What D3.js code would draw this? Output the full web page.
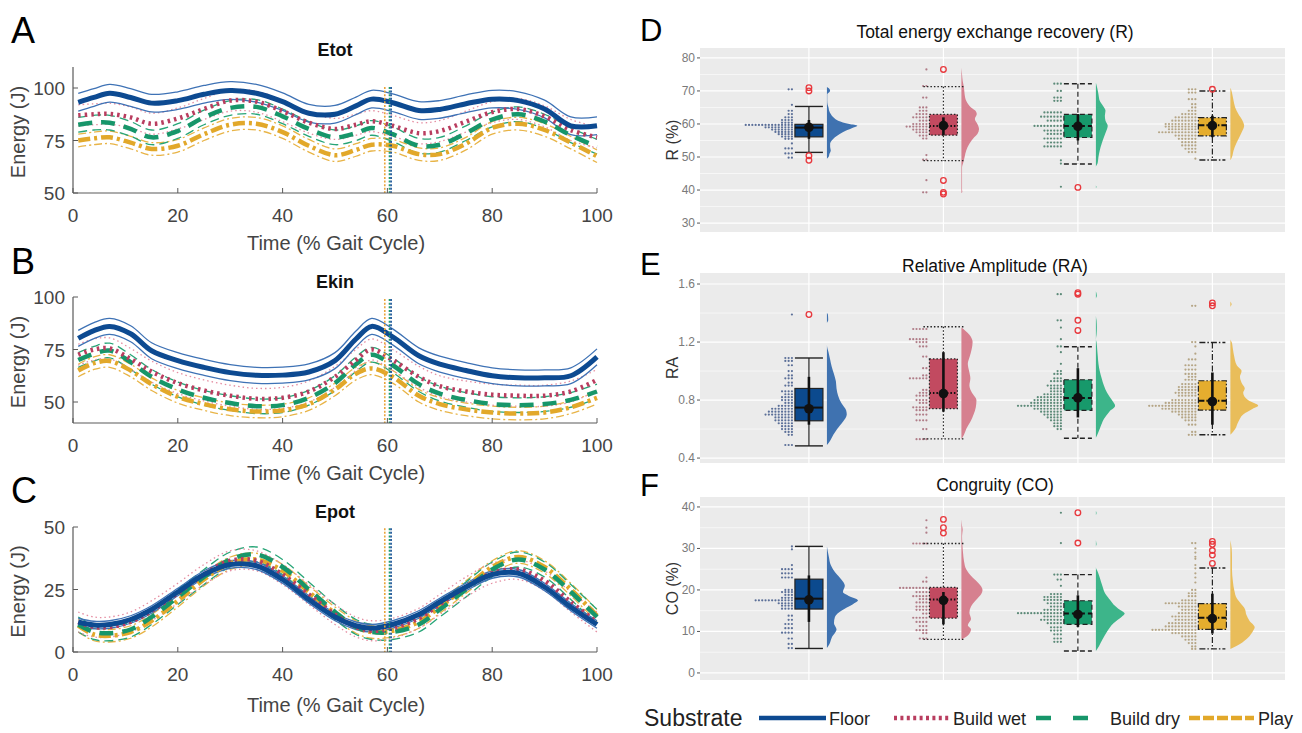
<!DOCTYPE html>
<html>
<head>
<meta charset="utf-8">
<script src="https://cdn.jsdelivr.net/npm/d3@7"></script>
<style>
  body { margin: 0; background: #fff; }
  svg { display: block; }
  text { font-family: "Liberation Sans", Arial, sans-serif; }
</style>
</head>
<body>
<svg id="fig" width="1302" height="733"></svg>
<script>
// ---------------- data ----------------
const substrates = ["Floor", "Build wet", "Build dry", "Play"];

// sample points along the gait cycle (%)
const gait = [1, 4, 7, 11, 15, 20, 25, 30, 35, 40, 45, 50, 54, 57, 61, 66, 70, 75, 80, 85, 90, 95, 100];

// total mechanical energy (J), group means
const etotFloor = [93.2, 95.5, 97.5, 95.5, 92.8, 94.0, 97.0, 98.8, 97.5, 93.5, 88.0, 87.5, 91.5, 94.7, 93.0, 89.3, 89.8, 92.5, 94.7, 94.0, 90.0, 82.0, 82.0];
const etotWet   = [87.0, 87.5, 87.7, 86.0, 83.0, 85.5, 90.0, 94.0, 93.5, 89.0, 83.5, 80.5, 82.5, 84.2, 82.0, 78.5, 79.5, 84.0, 88.5, 90.0, 86.5, 80.0, 76.5];
const etotDry   = [82.5, 83.5, 83.5, 80.5, 76.5, 79.5, 86.0, 90.5, 91.0, 86.5, 80.5, 76.5, 78.5, 81.0, 78.0, 72.5, 73.0, 78.5, 85.0, 87.5, 84.0, 77.5, 72.0];
const etotPlay  = [75.0, 76.0, 76.5, 74.0, 71.0, 72.5, 78.0, 82.5, 83.0, 79.0, 72.5, 68.0, 70.5, 73.0, 72.5, 68.5, 68.5, 73.5, 81.0, 83.0, 80.0, 74.0, 67.5];
const etotSd    = [4.2, 5.0, 3.5, 3.0];

// kinetic energy (J)
const ekinFloor = [80.3, 84.0, 86.0, 82.5, 74.4, 69.7, 66.5, 64.0, 62.7, 62.8, 64.3, 69.7, 80.0, 86.0, 81.0, 72.0, 68.0, 65.0, 62.5, 61.5, 61.5, 62.5, 71.5];
const ekinWet   = [72.5, 75.0, 75.5, 70.5, 64.5, 59.0, 55.5, 53.0, 51.5, 52.0, 55.0, 62.0, 70.0, 75.0, 70.0, 62.0, 57.5, 55.0, 53.5, 53.0, 53.0, 55.0, 60.5];
const ekinDry   = [70.0, 73.0, 74.5, 69.0, 62.0, 56.0, 52.0, 49.5, 48.0, 48.5, 52.0, 59.0, 68.0, 72.5, 67.5, 58.5, 54.0, 51.0, 49.0, 48.5, 49.0, 51.0, 55.0];
const ekinPlay  = [65.0, 68.5, 69.5, 65.0, 58.5, 52.5, 49.0, 46.5, 45.5, 46.0, 49.0, 56.0, 63.5, 66.0, 62.0, 53.0, 49.0, 46.5, 45.0, 44.5, 45.0, 47.5, 52.0];
const ekinSd    = [3.8, 5.0, 3.5, 3.0];

// potential energy (J)
const epotFloor = [12.0, 10.8, 11.0, 13.0, 17.0, 24.0, 31.0, 35.0, 34.5, 29.0, 21.0, 14.0, 10.5, 9.5, 11.0, 15.0, 20.0, 26.0, 31.0, 31.5, 26.0, 18.0, 11.0];
const epotWet   = [12.0, 10.0, 10.0, 12.0, 16.5, 23.5, 31.0, 36.5, 36.5, 31.0, 23.0, 15.0, 10.0, 8.5, 9.5, 13.5, 19.0, 26.0, 31.5, 33.0, 28.5, 20.0, 12.0];
const epotDry   = [11.0, 8.0, 7.5, 9.0, 14.0, 22.0, 30.0, 37.0, 39.0, 34.0, 25.0, 16.0, 10.0, 8.0, 8.0, 11.0, 17.0, 25.0, 33.0, 37.0, 33.0, 24.0, 14.0];
const epotPlay  = [10.5, 7.0, 6.5, 8.0, 12.5, 20.5, 29.0, 35.5, 37.0, 32.5, 24.0, 15.5, 10.0, 8.0, 8.5, 12.0, 18.0, 26.0, 34.0, 38.0, 34.0, 25.0, 14.5];
const epotSd    = [1.5, 4.0, 3.0, 2.5];

// toe-off events (% gait cycle): Play, Build dry, Floor
const toeOff = [59.5, 60.4, 60.7];

// ---- recovery (R, %) ----
// box statistics: [lower whisker, Q1, median, Q3, upper whisker]
const rBox = [[51.4, 56.1, 58.9, 59.9, 65.3], [48.9, 56.6, 59.4, 62.9, 71.3], [47.9, 55.9, 59.4, 62.9, 72.2], [49.1, 56.4, 59.6, 61.9, 70.0]];
const rMean = [59.0, 59.5, 59.3, 59.5];
const rMeanBar = [[55.5, 61.2], [56.5, 62.0], [55.0, 63.0], [56.0, 62.5]];
const rOutliers = [[71.0, 70.0, 50.4, 49.0], [76.5, 42.9, 39.3, 38.8], [40.8], [70.5]];
// binned observations: [value, count]
const rDots = [
  [[70.5,2],[65.8,1],[64,2],[63,2],[62,3],[61.2,4],[60.4,4],[59.7,15],[59,9],[58.3,7],[57.6,6],[56.9,5],[56.2,4],[55.5,3],[54.1,1],[52.6,3],[51.1,3],[49.8,2]],
  [[76.5,1],[71.5,2],[68,2],[65,3],[64,3],[63,4],[62,5],[61,3],[60,5],[59.2,7],[58.3,5],[57.5,4],[56.5,3],[55.6,2],[50.6,1],[49.2,2],[43,1],[39.3,2]],
  [[72.2,3],[70,2],[68,3],[67,3],[63.5,6],[62.2,7],[61,5],[59.4,9],[58,6],[57,5],[55.6,6],[54.4,5],[53.2,6],[49,1],[48,1],[41,1]],
  [[70.5,3],[69.5,3],[67.5,3],[66,2],[65,2],[64,3],[63,5],[62,7],[61,8],[60,10],[59.2,10],[58.4,9],[57.5,12],[56.5,7],[55.5,6],[54.5,5],[53.5,5],[52.5,4],[51.5,3],[49.5,1]]
];
// half-violin density profiles: [value, relative density]
const rDensity = [
  [[49.5,0],[50,0.05],[51,0.08],[52,0.12],[53,0.1],[54,0.1],[55,0.15],[56,0.25],[57,0.4],[58,0.6],[59,0.85],[59.5,0.95],[60,0.7],[61,0.35],[62,0.2],[63,0.12],[64,0.07],[65,0.05],[66,0.02],[67,0.01],[69,0.01],[70,0.1],[70.8,0.06],[71.2,0]],
  [[39,0],[39.5,0.03],[40,0.02],[44,0.02],[47,0.02],[48,0.05],[50,0.1],[52,0.15],[54,0.25],[56,0.4],[57,0.5],[58.5,0.55],[60,0.5],[61.5,0.42],[63,0.48],[64,0.44],[65,0.3],[67,0.15],[69,0.1],[71,0.08],[73,0.04],[75,0.02],[77,0]],
  [[40.6,0],[41,0.02],[41.4,0],[47,0],[48,0.05],[50,0.08],[52,0.12],[54,0.18],[56,0.25],[58,0.33],[59.5,0.37],[61,0.3],[62.5,0.28],[64,0.3],[65.5,0.22],[67,0.12],[69,0.08],[71,0.04],[72.5,0]],
  [[49,0],[50,0.05],[52,0.1],[54,0.18],[56,0.28],[58,0.38],[59.5,0.43],[61,0.38],[63,0.25],[65,0.15],[67,0.1],[69,0.06],[70.5,0.02],[71,0]]
];

// ---- relative amplitude (RA) ----
const raBox = [[0.484, 0.657, 0.748, 0.88, 1.09], [0.532, 0.741, 0.849, 1.084, 1.305], [0.537, 0.729, 0.815, 0.94, 1.168], [0.561, 0.731, 0.796, 0.933, 1.197]];
const raMean = [0.74, 0.845, 0.815, 0.79];
const raMeanBar = [[0.63, 0.96], [0.72, 1.13], [0.68, 1.02], [0.63, 0.99]];
const raOutliers = [[1.39], [], [1.53, 1.54, 1.35, 1.28], [1.45, 1.47]];
const raDots = [
  [[1.39,1],[1.09,3],[1.07,3],[1.04,2],[1.0,2],[0.97,2],[0.95,3],[0.92,2],[0.9,3],[0.86,4],[0.84,3],[0.82,4],[0.8,4],[0.78,3],[0.76,5],[0.74,7],[0.72,8],[0.7,9],[0.68,6],[0.66,6],[0.64,5],[0.62,4],[0.6,4],[0.58,3],[0.56,2],[0.49,3]],
  [[1.29,5],[1.22,6],[1.2,4],[1.17,3],[1.1,2],[1.02,2],[0.97,2],[0.95,6],[0.87,2],[0.85,3],[0.83,4],[0.8,4],[0.78,3],[0.75,5],[0.73,4],[0.7,4],[0.66,4],[0.6,2],[0.53,4]],
  [[1.53,2],[1.35,2],[1.3,1],[1.22,1],[1.17,2],[1.13,1],[1.05,1],[1.0,2],[0.98,3],[0.95,3],[0.93,4],[0.9,5],[0.88,4],[0.86,4],[0.84,6],[0.82,8],[0.8,9],[0.78,10],[0.76,14],[0.74,9],[0.72,7],[0.7,6],[0.68,5],[0.66,4],[0.64,3],[0.62,3],[0.6,2]],
  [[1.45,2],[1.2,2],[1.17,1],[1.12,1],[1.08,3],[1.04,4],[1.01,4],[0.98,4],[0.96,3],[0.94,4],[0.91,5],[0.89,6],[0.87,6],[0.85,7],[0.83,6],[0.8,8],[0.78,10],[0.76,15],[0.74,11],[0.72,8],[0.7,6],[0.68,5],[0.66,4],[0.63,3],[0.58,2],[0.56,3]]
];
const raDensity = [
  [[0.49,0],[0.52,0.1],[0.56,0.2],[0.6,0.32],[0.65,0.5],[0.7,0.62],[0.73,0.6],[0.78,0.45],[0.83,0.35],[0.88,0.3],[0.93,0.28],[0.98,0.22],[1.03,0.15],[1.08,0.1],[1.13,0.05],[1.18,0],[1.33,0],[1.35,0.04],[1.39,0.03],[1.4,0]],
  [[0.53,0],[0.56,0.08],[0.6,0.15],[0.65,0.28],[0.7,0.38],[0.75,0.45],[0.8,0.47],[0.85,0.33],[0.9,0.25],[0.95,0.28],[1.0,0.24],[1.05,0.2],[1.1,0.26],[1.15,0.32],[1.2,0.35],[1.25,0.25],[1.3,0]],
  [[0.54,0],[0.58,0.08],[0.62,0.15],[0.67,0.25],[0.72,0.42],[0.76,0.6],[0.8,0.5],[0.85,0.35],[0.9,0.25],[0.95,0.18],[1.0,0.12],[1.05,0.08],[1.1,0.06],[1.15,0.04],[1.2,0.02],[1.22,0],[1.25,0.02],[1.3,0.03],[1.35,0.02],[1.38,0],[1.5,0],[1.52,0.03],[1.55,0]],
  [[0.56,0],[0.6,0.15],[0.65,0.25],[0.7,0.4],[0.74,0.7],[0.76,0.87],[0.8,0.55],[0.85,0.4],[0.88,0.45],[0.92,0.35],[0.96,0.3],[1.0,0.35],[1.04,0.2],[1.1,0.12],[1.15,0.08],[1.2,0.04],[1.22,0],[1.44,0],[1.46,0.04],[1.48,0]]
];

// ---- congruity (CO, %) ----
const coBox = [[5.9, 15.4, 17.9, 22.6, 30.5], [8.1, 13.2, 17.7, 20.6, 31.2], [5.3, 11.7, 14.3, 17.4, 23.7], [5.8, 10.5, 13.3, 16.7, 25.3]];
const coMean = [17.6, 17.5, 14.1, 13.1];
const coMeanBar = [[12.3, 23.5], [11.7, 19.5], [11.1, 18.7], [9.5, 19.1]];
const coOutliers = [[], [37.0, 35.0, 33.7], [38.6, 31.3], [31.7, 31.0, 29.5, 28.4, 26.4]];
const coDots = [
  [[30.5,1],[29.8,1],[26,1],[25,4],[24,4],[23,4],[20,3],[19.5,4],[18.8,3],[18.1,4],[17.5,12],[16.8,5],[16.2,4],[15.5,4],[13.8,2],[12.8,2],[11.8,3],[10.8,3],[9.7,4],[8.3,2],[7,2],[6,2]],
  [[36.8,1],[35,1],[33.8,1],[31.2,5],[23,1],[22,2],[20.5,9],[19.5,4],[18.5,5],[17.8,3],[17,4],[16,4],[15.2,4],[14.3,2],[13.3,5],[12.3,4],[11.3,3],[10.3,4],[9.6,2],[8.3,3]],
  [[38.6,1],[31.3,1],[23.7,3],[22.5,2],[21,1],[19,4],[18.3,6],[17.6,6],[16.8,5],[16,4],[15.2,6],[14.4,14],[13.6,6],[12.8,7],[12,5],[11,4],[10.2,4],[9.3,3],[8.3,3],[7.5,3]],
  [[31.3,2],[30,1],[29,1],[28,1],[27.5,1],[26,1],[25.2,1],[24,1],[23,1],[21.8,1],[20,2],[19.2,3],[18.5,3],[17.5,5],[16.8,10],[16,6],[15.2,5],[14.4,6],[13.6,8],[12.8,7],[12,9],[11.2,10],[10.4,14],[9.6,8],[8.8,5],[8,4],[7.2,3],[6.4,2],[5.8,2]]
];
const coDensity = [
  [[6,0],[7,0.08],[8.5,0.15],[10.5,0.3],[12,0.22],[13.5,0.25],[15,0.45],[16.5,0.8],[17.5,0.97],[18.5,0.7],[19.5,0.5],[21,0.56],[22.5,0.45],[24,0.28],[26,0.12],[28,0.06],[30.5,0]],
  [[8,0],[9,0.2],[10.5,0.3],[11.5,0.2],[13,0.3],[14.5,0.25],[16,0.3],[17.5,0.45],[19,0.62],[20,0.66],[21.5,0.55],[23,0.35],[25,0.15],[27,0.08],[29,0.05],[31,0.03],[33,0.02],[34.5,0.04],[35.5,0.02],[37,0]],
  [[5.3,0],[6.5,0.1],[8,0.2],[10,0.35],[12,0.55],[13.5,0.8],[14.3,0.9],[15.5,0.7],[16.5,0.55],[17.5,0.45],[19,0.3],[21,0.2],[23,0.12],[24.5,0.05],[25.5,0],[30.5,0],[31,0.02],[32,0],[38,0],[38.5,0.02],[39,0]],
  [[5.8,0],[7,0.3],[8.5,0.55],[10,0.7],[11,0.76],[12.5,0.6],[14,0.5],[15.5,0.45],[16.5,0.35],[18,0.2],[20,0.12],[22,0.08],[25,0.05],[28,0.05],[30,0.04],[32,0]]
];

// ---------------- styles ----------------
const meanStyle = [
  { color: "#0d4a91", width: 5,   dash: null },
  { color: "#b93d5f", width: 4.5, dash: "2.5,4" },
  { color: "#17966a", width: 4.5, dash: "14,9" },
  { color: "#e2a82a", width: 4.5, dash: "12,4,3,4" }
];
const sdStyle = [
  { color: "#3e72b5", width: 1.3, dash: null },
  { color: "#e58ea2", width: 1.3, dash: "1.5,3" },
  { color: "#27a577", width: 1.3, dash: "9,5" },
  { color: "#e8b447", width: 1.3, dash: "8,3,2,3" }
];
const boxFill    = ["#0c4a8e", "#c24a60", "#17996b", "#e5ad2e"];
const violinFill = ["#3f72b0", "#d6808f", "#3db58a", "#e9bd5a"];
const dotFill    = ["#5b6f98", "#b07d88", "#5c8a78", "#b5a585"];
const boxDash    = [null, "1.5,2", "5,3", "6,2,1.5,2"];
const capHalf    = [14, 20, 14, 13];
const eventColor = ["#eaa43a", "#1e9c70", "#0d4a91"];

const svg = d3.select("#fig");

// ---------------- energy curves (left column) ----------------
const xTime = d3.scaleLinear().domain([0, 100]).range([73, 597]);

const energyPanels = [
  { letter: "A", title: "Etot", means: [etotFloor, etotWet, etotDry, etotPlay], sd: etotSd,
    domain: [50, 110], range: [193, 67], ticks: [50, 75, 100], eventTop: 100.5, letterY: 43, titleY: 56, xlabY: 250 },
  { letter: "B", title: "Ekin", means: [ekinFloor, ekinWet, ekinDry, ekinPlay], sd: ekinSd,
    domain: [40, 100], range: [423, 297], ticks: [50, 75, 100], eventTop: 99, letterY: 274, titleY: 288, xlabY: 480 },
  { letter: "C", title: "Epot", means: [epotFloor, epotWet, epotDry, epotPlay], sd: epotSd,
    domain: [0, 50], range: [652, 527], ticks: [0, 25, 50], eventTop: 49.5, letterY: 503, titleY: 518, xlabY: 712 }
];

energyPanels.forEach(p => {
  const y = d3.scaleLinear().domain(p.domain).range(p.range);
  const g = svg.append("g");
  const [yBot, yTop] = p.range;

  // curves: SD bounds first, then means; Floor drawn last
  const order = [3, 2, 1, 0];
  const line = d3.line().curve(d3.curveCatmullRom.alpha(0.5));
  order.forEach(i => {
    const m = p.means[i];
    [1, -1].forEach(sgn => {
      const pts = gait.map((t, k) => [xTime(t), y(m[k] + sgn * p.sd[i])]);
      g.append("path").attr("d", line(pts)).attr("fill", "none")
        .attr("stroke", sdStyle[i].color).attr("stroke-width", sdStyle[i].width)
        .attr("stroke-dasharray", sdStyle[i].dash);
    });
  });
  order.forEach(i => {
    const m = p.means[i];
    const pts = gait.map((t, k) => [xTime(t), y(m[k])]);
    g.append("path").attr("d", line(pts)).attr("fill", "none")
      .attr("stroke", meanStyle[i].color).attr("stroke-width", meanStyle[i].width)
      .attr("stroke-dasharray", meanStyle[i].dash);
  });

  // toe-off markers
  toeOff.forEach((t, i) => {
    g.append("line").attr("x1", xTime(t)).attr("x2", xTime(t))
      .attr("y1", y(p.eventTop)).attr("y2", yBot)
      .attr("stroke", eventColor[i]).attr("stroke-width", 1.6).attr("stroke-dasharray", "2,1.6");
  });

  // axes (box off, ticks inward)
  const axisCol = "#5a5a5a";
  g.append("line").attr("x1", 73).attr("x2", 73).attr("y1", yTop).attr("y2", yBot).attr("stroke", axisCol).attr("stroke-width", 1.2);
  g.append("line").attr("x1", 73).attr("x2", 597).attr("y1", yBot).attr("y2", yBot).attr("stroke", axisCol).attr("stroke-width", 1.2);
  xTime.ticks(5).forEach(t => {
    g.append("line").attr("x1", xTime(t)).attr("x2", xTime(t)).attr("y1", yBot).attr("y2", yBot - 5).attr("stroke", axisCol);
    g.append("text").attr("x", xTime(t)).attr("y", yBot + 29).attr("text-anchor", "middle")
      .attr("font-size", 19).attr("fill", "#444").text(t);
  });
  p.ticks.forEach(t => {
    g.append("line").attr("x1", 73).attr("x2", 78).attr("y1", y(t)).attr("y2", y(t)).attr("stroke", axisCol);
    g.append("text").attr("x", 65).attr("y", y(t) + 7).attr("text-anchor", "end")
      .attr("font-size", 19).attr("fill", "#444").text(t);
  });

  g.append("text").attr("x", 335).attr("y", p.titleY).attr("text-anchor", "middle")
    .attr("font-size", 18).attr("font-weight", "bold").attr("fill", "#111").text(p.title);
  g.append("text").attr("x", 336).attr("y", p.xlabY).attr("text-anchor", "middle")
    .attr("font-size", 20).attr("fill", "#444").text("Time (% Gait Cycle)");
  g.append("text").attr("transform", `translate(25,${(yBot + yTop) / 2 + 2}) rotate(-90)`)
    .attr("text-anchor", "middle").attr("font-size", 20).attr("fill", "#444").text("Energy (J)");
  g.append("text").attr("x", 11).attr("y", p.letterY).attr("font-size", 36).attr("fill", "#000").text(p.letter);
});

// ---------------- raincloud panels (right column) ----------------
const xCat = d3.scaleLinear().domain([0.19, 4.54]).range([700, 1285]);
const widthScale = d3.scaleLinear().domain([0, 1]).range([0, 32]);

const rainPanels = [
  { letter: "D", title: "Total energy exchange recovery (R)", ylab: "R (%)",
    box: rBox, mean: rMean, meanBar: rMeanBar, outliers: rOutliers, dots: rDots, density: rDensity,
    domain: [27.3, 83.0], range: [232, 48], major: [30, 40, 50, 60, 70, 80], minor: [35, 45, 55, 65, 75], fmt: d3.format("d"),
    letterY: 41, titleY: 38 },
  { letter: "E", title: "Relative Amplitude (RA)", ylab: "RA",
    box: raBox, mean: raMean, meanBar: raMeanBar, outliers: raOutliers, dots: raDots, density: raDensity,
    domain: [0.366, 1.676], range: [463, 273], major: [0.4, 0.8, 1.2, 1.6], minor: [0.6, 1.0, 1.4], fmt: d3.format(".1f"),
    letterY: 275, titleY: 272 },
  { letter: "F", title: "Congruity (CO)", ylab: "CO (%)",
    box: coBox, mean: coMean, meanBar: coMeanBar, outliers: coOutliers, dots: coDots, density: coDensity,
    domain: [-1.7, 42.4], range: [680, 497], major: [0, 10, 20, 30, 40], minor: [5, 15, 25, 35], fmt: d3.format("d"),
    letterY: 496, titleY: 491 }
];

rainPanels.forEach(p => {
  const y = d3.scaleLinear().domain(p.domain).range(p.range);
  const g = svg.append("g");
  const [yBot, yTop] = p.range;
  const [x0, x1] = xCat.range();

  g.append("rect").attr("x", x0).attr("y", yTop).attr("width", x1 - x0).attr("height", yBot - yTop).attr("fill", "#ebebeb");
  p.minor.forEach(v => g.append("line").attr("x1", x0).attr("x2", x1).attr("y1", y(v)).attr("y2", y(v)).attr("stroke", "#fff").attr("stroke-width", 0.6));
  p.major.forEach(v => g.append("line").attr("x1", x0).attr("x2", x1).attr("y1", y(v)).attr("y2", y(v)).attr("stroke", "#fff").attr("stroke-width", 1.2));
  substrates.forEach((s, i) => g.append("line").attr("x1", xCat(i + 1)).attr("x2", xCat(i + 1)).attr("y1", yTop).attr("y2", yBot).attr("stroke", "#fff").attr("stroke-width", 1.2));

  // y axis ticks and labels
  p.major.forEach(v => {
    g.append("line").attr("x1", x0 - 3).attr("x2", x0).attr("y1", y(v)).attr("y2", y(v)).attr("stroke", "#555");
    g.append("text").attr("x", x0 - 5).attr("y", y(v) + 4).attr("text-anchor", "end")
      .attr("font-size", 12).attr("fill", "#7a7a7a").text(p.fmt(v));
  });
  g.append("text").attr("transform", `translate(678,${(yBot + yTop) / 2}) rotate(-90)`)
    .attr("text-anchor", "middle").attr("font-size", 16).attr("fill", "#333").text(p.ylab);
  g.append("text").attr("x", 995).attr("y", p.titleY).attr("text-anchor", "middle")
    .attr("font-size", 17.5).attr("fill", "#111").text(p.title);
  g.append("text").attr("x", 640).attr("y", p.letterY).attr("font-size", 31).attr("fill", "#000").text(p.letter);

  substrates.forEach((s, i) => {
    const cx = xCat(i + 1);
    // half violin
    const area = d3.area()
      .y(d => y(d[0]))
      .x0(cx + 18)
      .x1(d => cx + 18 + widthScale(d[1]))
      .curve(d3.curveMonotoneY);
    g.append("path").attr("d", area(p.density[i])).attr("fill", violinFill[i]);

    // stacked dots
    p.dots[i].forEach(([v, n]) => {
      for (let k = 0; k < n; k++) {
        g.append("circle").attr("cx", cx - 17 - k * 3.3).attr("cy", y(v)).attr("r", 1.1).attr("fill", dotFill[i]);
      }
    });

    // box and whiskers
    const [lo, q1, med, q3, hi] = p.box[i];
    g.append("line").attr("x1", cx).attr("x2", cx).attr("y1", y(hi)).attr("y2", y(lo))
      .attr("stroke", "#222").attr("stroke-width", 1.2).attr("stroke-dasharray", boxDash[i]);
    [lo, hi].forEach(v => g.append("line").attr("x1", cx - capHalf[i]).attr("x2", cx + capHalf[i]).attr("y1", y(v)).attr("y2", y(v))
      .attr("stroke", "#222").attr("stroke-width", 1.4).attr("stroke-dasharray", boxDash[i]));
    g.append("rect").attr("x", cx - 14).attr("y", y(q3)).attr("width", 28).attr("height", y(q1) - y(q3))
      .attr("fill", boxFill[i]).attr("stroke", "#222").attr("stroke-width", 1.2).attr("stroke-dasharray", boxDash[i]);
    g.append("line").attr("x1", cx - 14).attr("x2", cx + 14).attr("y1", y(med)).attr("y2", y(med))
      .attr("stroke", "#111").attr("stroke-width", 2).attr("stroke-dasharray", boxDash[i]);

    // mean with spread bar
    const [mb0, mb1] = p.meanBar[i];
    g.append("line").attr("x1", cx).attr("x2", cx).attr("y1", y(mb1)).attr("y2", y(mb0)).attr("stroke", "#111").attr("stroke-width", 2.6);
    g.append("circle").attr("cx", cx).attr("cy", y(p.mean[i])).attr("r", 4.8).attr("fill", "#111");

    // outliers
    p.outliers[i].forEach(v => g.append("circle").attr("cx", cx).attr("cy", y(v)).attr("r", 2.8)
      .attr("fill", "none").attr("stroke", "#e8383d").attr("stroke-width", 1.3));
  });
});

// ---------------- legend ----------------
const leg = svg.append("g");
const legY = 718;
leg.append("text").attr("x", 644).attr("y", legY + 8).attr("font-size", 23).attr("fill", "#222").text("Substrate");
const legItems = [
  { x1: 759, x2: 826, tx: 829, dash: null },
  { x1: 894, x2: 950, tx: 953, dash: "3,3.4" },
  { x1: 1036, x2: 1089, tx: 1110, dash: "15,22" },
  { x1: 1189, x2: 1254, tx: 1258, dash: "11,3" }
];
substrates.forEach((s, i) => {
  const it = legItems[i];
  leg.append("line").attr("x1", it.x1).attr("x2", it.x2).attr("y1", legY).attr("y2", legY)
    .attr("stroke", meanStyle[i].color).attr("stroke-width", 4.5).attr("stroke-dasharray", it.dash);
  leg.append("text").attr("x", it.tx).attr("y", legY + 7).attr("font-size", 18).attr("fill", "#222").text(s);
});
</script>
</body>
</html>
